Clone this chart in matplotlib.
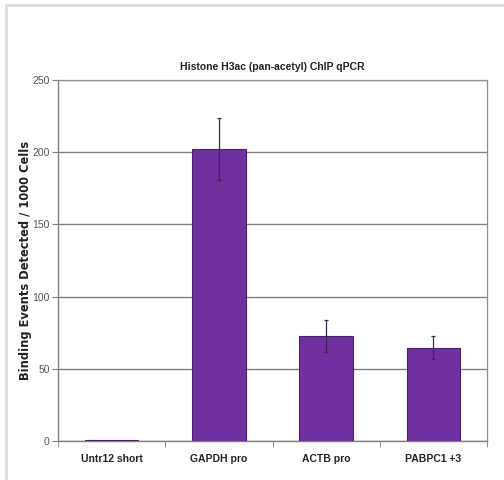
import matplotlib
matplotlib.use("Agg")
import matplotlib.pyplot as plt
from matplotlib.lines import Line2D
import numpy as np

categories = ["Untr12 short", "GAPDH pro", "ACTB pro", "PABPC1 +3"]
values = [0.5, 202.5, 72.5, 64.5]
errors = [0.0, 21.5, 11.0, 8.0]
yticks = [0, 50, 100, 150, 200, 250]

plt.rcParams['font.family'] = ['Liberation Sans', 'DejaVu Sans']

fig = plt.figure(figsize=(5.04, 4.8), dpi=100)
ax = fig.add_axes([58/504, 39/480, (487-58)/504, (441-80)/480])

x = np.arange(len(categories))
ax.bar(x, values, width=0.5, color="#7030A0", edgecolor="#4a1f6e", linewidth=0.8, zorder=3)
ax.errorbar(x[1:], values[1:], yerr=errors[1:], fmt='none', ecolor="#3a2a4a",
            elinewidth=0.9, capsize=1.5, capthick=0.9, zorder=4)

ax.set_xlim(-0.5, len(categories) - 0.5)
ax.set_ylim(0, 250)
ax.set_yticks(yticks)
ax.set_yticklabels([str(t) for t in yticks], fontsize=7.5, color="#555555")
ax.yaxis.grid(True, color="#808080", linewidth=1.0, zorder=0)
ax.set_axisbelow(True)

ax.set_xticks(x)
ax.set_xticklabels(categories, fontsize=7.5, fontweight='bold', color="#222222")
ax.set_xticks(np.arange(-0.5, len(categories)), minor=True)
ax.tick_params(axis='x', which='major', length=0, pad=9)
ax.tick_params(axis='x', which='minor', length=4, color="#808080", direction='out')
ax.tick_params(axis='y', length=4, color="#808080", direction='out', pad=2)

for s in ['left', 'bottom']:
    ax.spines[s].set_color("#808080")
    ax.spines[s].set_linewidth(1.0)
for s in ['top', 'right']:
    ax.spines[s].set_color("#909090")
    ax.spines[s].set_linewidth(0.9)

ax.set_title("Histone H3ac (pan-acetyl) ChIP qPCR", fontsize=7.5, fontweight='bold',
             color="#222222", pad=7)
ax.set_ylabel("Binding Events Detected / 1000 Cells", fontsize=8.3, fontweight='bold',
              family=['DejaVu Sans'], color="#222222", labelpad=0)

# outer light frame
fig.add_artist(Line2D([6/504, 6/504], [0, 1 - 5/480], transform=fig.transFigure,
                      color="#dddddd", linewidth=2))
fig.add_artist(Line2D([6/504, 1], [1 - 5/480, 1 - 5/480], transform=fig.transFigure,
                      color="#dddddd", linewidth=2))

fig.savefig("out.png", dpi=100)
